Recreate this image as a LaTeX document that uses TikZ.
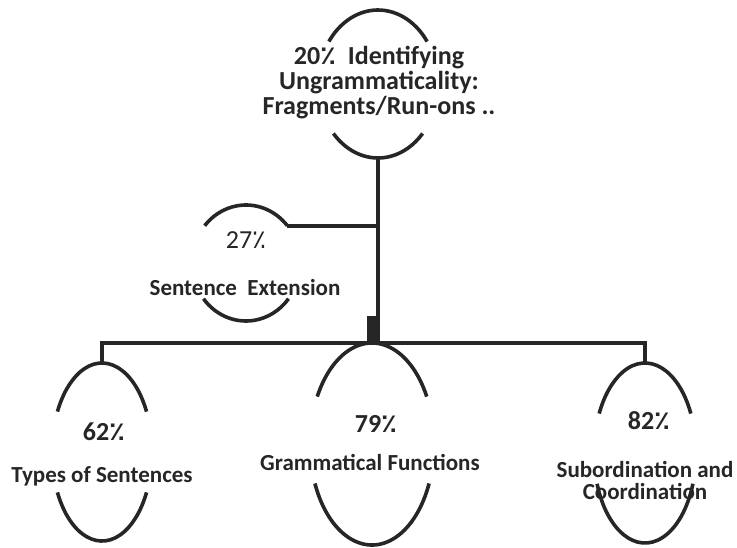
\documentclass[tikz,border=0pt]{standalone}
\usepackage{fontspec}
\setmainfont{Carlito}
\newfontfamily\pcfont{DejaVu Sans}
\newcommand\pc{{\pcfont ٪}}
\definecolor{ink}{RGB}{38,38,38}
\begin{document}
\begin{tikzpicture}[x=1pt,y=1pt,line width=3.6pt,draw=ink,text=ink,
  lbl/.style={font=\fontsize{23}{25}\selectfont\bfseries,align=center,inner sep=0pt},
  pct/.style={lbl,font=\fontsize{26}{28}\selectfont\bfseries}]
\useasboundingbox (0,0) rectangle (737,-547);
% ovals: name/x/y/xradius/yradius/top gap/bottom gap
\foreach \n/\x/\y/\a/\b/\s/\t in {ident/378/84/60/74/35/42, ext/246/263/54/58/40/38,
    types/102/452/50/89/27/27, gram/372/444/62/101/28/23, sub/645/453/51/90/26/20}{
  \coordinate (\n) at (\x,-\y);
  \draw ([shift={(\s:\a pt and \b pt)}]\n) arc[start angle=\s, end angle=180-\s, x radius=\a pt, y radius=\b pt];
  \draw ([shift={(180+\t:\a pt and \b pt)}]\n) arc[start angle=180+\t, end angle=360-\t, x radius=\a pt, y radius=\b pt];
  \coordinate (\n-n) at ([yshift=\b pt]\n);
  \coordinate (\n-s) at ([yshift=-\b pt]\n);
}
\coordinate (ext-ne) at ([shift={(40:54pt and 58pt)}]ext);
\coordinate (hub) at (ident-s |- gram-n);

% labels
\node[lbl,font=\fontsize{26}{25}\selectfont\bfseries] (identL) at (379,-83)
  {20\pc\ \ Identifying\\Ungrammaticality:\\Fragments/Run-ons ..};
\node[pct,font=\fontsize{26}{28}\selectfont] (extP) at (246,-240) {27\pc};
\node[lbl] (extL) at (245,-288) {Sentence\ \ Extension};
\node[pct] (typesP) at (104,-432) {62\pc};
\node[lbl] (typesL) at (102,-476) {Types of Sentences};
\node[pct] (gramP) at (376,-424) {79\pc};
\node[lbl] (gramL) at (370,-462) {Grammatical Functions};
\node[pct] (subP) at (649,-421) {82\pc};
\node[lbl,font=\fontsize{23}{22}\selectfont\bfseries] (subL) at (645,-480) {Subordination and\\Coordination};

% tree
\draw (ident-s) -- (hub);
\draw (ext-ne) -- (ext-ne -| hub);
\draw (types-n) -- (types-n |- hub) -- (sub-n |- hub) -- (sub-n);
\fill[ink] ([xshift=-11pt]hub) rectangle ([xshift=1pt,yshift=27pt]hub);
\end{tikzpicture}
\end{document}
